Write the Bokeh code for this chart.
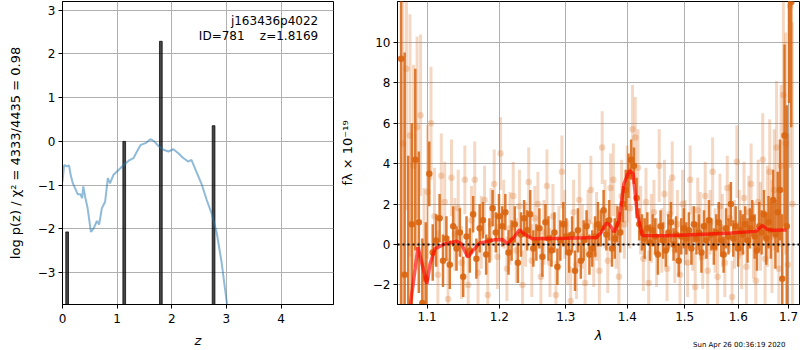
import numpy as np
from bokeh.plotting import figure
from bokeh.layouts import row
from bokeh.models import (Range1d, FixedTicker, PrintfTickFormatter,
                          CustomJSTickFormatter, Span, Label, Title)
from bokeh.embed import file_html
from bokeh.resources import INLINE

# ---------------- data: left panel (redshift PDF) ----------------
z_grid = [0.0, 0.03, 0.08, 0.12, 0.15, 0.19, 0.23, 0.28, 0.33, 0.36,
          0.38, 0.42, 0.46, 0.52, 0.57, 0.63, 0.67, 0.72, 0.78, 0.83,
          0.87, 0.93, 1.03, 1.12, 1.21, 1.30, 1.38, 1.43, 1.52, 1.61,
          1.68, 1.76, 1.85, 1.94, 2.03, 2.12, 2.21, 2.30, 2.36, 2.45,
          2.55, 2.64, 2.73, 2.82, 2.91, 3.01, 3.10]
logpz = [-0.92, -0.54, -0.57, -0.55, -0.77, -0.96, -1.07, -1.21, -1.21, -1.30,
         -1.03, -1.30, -1.53, -2.07, -1.99, -1.82, -1.90, -1.53, -1.38, -0.84,
         -0.96, -0.77, -0.65, -0.54, -0.44, -0.38, -0.19, -0.08, -0.04, 0.05,
         0.0, -0.11, -0.19, -0.23, -0.18, -0.27, -0.38, -0.46, -0.42, -0.69,
         -0.99, -1.34, -1.65, -2.07, -2.75, -3.71, -4.5]
peak_z = [0.085, 1.13, 1.80, 2.765]
peak_logp = [-2.07, 0.0, 2.29, 0.36]

# ---------------- data: right panel (spectrum) ----------------
dark_wave = np.round(1.066 + 0.0046 * np.arange(140), 4)
dark_flux = [9.2, -1.5, -3.6, 1.0, 4.2, 1.1, -2.9, -1.7,
             3.5, -0.4, 0.2, 1.3, -0.8, 0.3, -1.0, 0.9, -0.2, 0.6, -1.6,
             0.4, -0.3, 1.5, -0.7, 0.8, 1.2, -0.5, 0.2, 1.8, 0.6, 1.4,
             0.9, 1.6, -0.4, 0.2, 1.0, -0.9, 0.5, 1.3, 0.7, 1.5, -0.2,
             0.1, 0.8, -0.6, 1.1, 0.3, -0.3, 0.6, -1.1, 0.2, 1.0, 0.4,
             -0.4, 0.5, -1.3, 0.7, -0.8, 0.2, 0.9, -0.5, -0.2, 0.4, 1.0,
             0.8, 1.7, 0.5, 1.2, -0.2, 0.3, 1.0, 0.6, 2.0, 2.7, 3.4,
             4.2, 3.9, 2.3, 1.0, 0.6, 0.3, 0.8, 0.1, 0.7, 0.4, -0.5,
             0.9, 0.2, -0.3, 0.6, 1.1, 0.0, 0.5, -0.8, 0.4, 0.8, 0.3,
             0.7, -0.2, 1.0, 0.3, 0.6, -0.4, 0.9, 0.2, 1.2, 0.5, -0.1,
             0.6, 1.1, 0.2, -0.5, 0.8, 0.4, 2.0, 0.3, 0.9, -0.2, 0.7,
             0.5, 1.0, 0.2, 0.8, 1.3, 0.4, -0.3, 0.9, 0.6, 1.5, 0.3,
             1.1, 0.7, 2.2, 0.5, 1.6, 2.7, -1.7, 5.4, 0.9, 15.0, 12.0]
dark_err = [14, 11, 8, 5, 4.5, 3.5, 3.2, 2.8,
            1.6, 1.4, 1.3, 1.2, 1.3, 1.1, 1.2, 1.0, 1.1, 1.2, 1.0,
            1.0, 1.1, 0.9, 1.0, 1.2, 0.9, 1.0, 1.1, 0.9, 1.0, 1.1,
            1.0, 0.9, 1.1, 1.0, 0.9, 1.0, 1.1, 0.9, 1.0, 1.2, 0.9,
            0.9, 1.0, 1.0, 0.9, 1.1, 0.8, 1.0, 0.9, 1.0, 1.1, 0.9,
            1.0, 0.9, 1.0, 1.1, 0.9, 1.0, 0.8, 1.0, 0.9, 1.0, 1.1,
            0.9, 1.0, 0.8, 1.0, 0.9, 1.0, 0.9, 1.0, 0.9, 1.0, 1.1,
            1.0, 0.9, 1.0, 0.8, 0.9, 1.0, 0.8, 0.9, 0.8, 0.9, 1.0,
            0.8, 0.9, 0.8, 0.9, 1.0, 0.8, 0.9, 0.8, 0.9, 1.0, 0.8,
            0.9, 0.8, 0.9, 0.8, 0.9, 1.0, 0.8, 0.9, 1.0, 0.8, 0.9,
            0.9, 1.0, 0.8, 0.9, 1.0, 0.9, 1.1, 0.9, 1.0, 0.9, 1.0,
            1.0, 0.9, 1.1, 1.0, 0.9, 1.1, 1.0, 1.2, 1.1, 1.2, 1.3,
            1.3, 1.4, 1.5, 1.7, 2.0, 2.5, 3.2, 4.5, 6.0, 8.0, 6.2]

light_wave = np.round(1.0683 + 0.0046 * np.arange(140), 4)
light_flux = [5.0, 8.7, 5.4, 3.9, 5.8, 6.4, -1.0, 2.6,
              6.0, 1.4, -1.5, 3.4, 2.1, -2.7, 3.3, 0.5, 1.8, -0.9, 3.2,
              -2.0, 1.2, 3.2, -1.4, 0.6, 2.2, -2.5, 1.0, 3.0, -0.6, 4.5,
              1.5, -1.2, 0.8, 2.4, -0.3, 1.9, -2.0, 0.5, 3.1, -0.8, 1.3,
              2.0, -1.6, 0.6, 2.9, -0.9, 1.4, -2.5, 0.3, 3.6, 1.0, -0.4,
              -2.8, 1.6, -1.0, 2.2, 0.4, -1.9, 1.1, 2.7, -0.5, 0.9, -1.3,
              4.8, 1.5, -0.8, 2.8, 3.2, 0.4, -1.6, 2.4, 1.0, 3.0, 1.8,
              5.7, 5.3, 3.8, 1.2, -0.7, 2.1, -1.9, 0.8, 1.6, -0.4, 3.9,
              0.2, 2.5, -1.2, 1.5, 3.3, -0.3, 1.0, -1.5, 2.0, 0.6, -0.9,
              3.2, 0.3, -2.1, 1.7, 0.9, -0.6, 2.4, -1.3, 1.1, 3.6, 0.2,
              -1.6, 1.9, 0.7, -0.9, 2.8, 1.3, -2.6, 0.5, 4.1, 1.0, -0.4,
              2.3, -1.1, 1.6, 3.0, 0.2, -1.8, 2.1, 0.9, 4.2, -0.7, 1.4,
              3.6, 0.4, 2.7, 4.8, -1.2, 3.9, 7.4, 5.0, -1.0, 11.8, 2.0]
light_err = [9, 7, 6, 5, 4.5, 4, 3.8, 3.3,
             2.8, 2.4, 2.2, 2.1, 2.0, 2.0, 1.9, 1.8, 1.9, 1.8, 1.7,
             1.8, 1.7, 1.9, 1.6, 1.8, 1.7, 1.6, 1.8, 1.7, 1.6, 1.8,
             1.7, 1.6, 1.8, 1.7, 1.6, 1.8, 1.7, 1.6, 1.7, 1.8, 1.6,
             1.6, 1.7, 1.6, 1.8, 1.7, 1.6, 1.7, 1.6, 1.8, 1.7, 1.6,
             1.7, 1.6, 1.7, 1.8, 1.6, 1.7, 1.6, 1.7, 1.6, 1.7, 1.8,
             1.8, 1.7, 1.6, 1.7, 1.8, 1.6, 1.7, 1.8, 1.7, 1.9, 2.0,
             2.2, 2.0, 1.9, 1.7, 1.6, 1.7, 1.6, 1.7, 1.6, 1.7, 1.8,
             1.6, 1.7, 1.6, 1.7, 1.8, 1.6, 1.7, 1.6, 1.7, 1.6, 1.7,
             1.7, 1.6, 1.7, 1.6, 1.7, 1.6, 1.7, 1.8, 1.6, 1.7, 1.6,
             1.7, 1.6, 1.8, 1.7, 1.6, 1.7, 1.8, 1.7, 1.8, 1.7, 1.8,
             1.8, 1.9, 1.8, 2.0, 1.9, 2.0, 2.1, 2.2, 2.3, 2.4, 2.5,
             2.6, 2.8, 3.0, 3.3, 3.6, 4.0, 4.8, 5.5, 6.5, 8.0, 9.0]

model_wave = [1.072, 1.078, 1.0879, 1.0996, 1.1039, 1.1105, 1.1238, 1.1396, 1.1463, 1.1553,
              1.1623, 1.1716, 1.1926, 1.2045, 1.2117, 1.2212, 1.2296, 1.236, 1.2484, 1.3013,
              1.3486, 1.3567, 1.3646, 1.3701, 1.3781, 1.386, 1.3941, 1.4033, 1.4097, 1.4167,
              1.4254, 1.4653, 1.5253, 1.5868, 1.6343, 1.6474, 1.657, 1.6676, 1.6954]
model_flux = [-5.0, -2.97, -0.13, -1.95, -0.95, -0.21, 0.03, 0.16, 0.03, -0.63,
              -0.3, 0.07, 0.23, 0.25, 0.03, 0.36, 0.73, 0.53, 0.28, 0.31,
              0.35, 0.6, 1.05, 1.0, 0.61, 1.19, 3.0, 3.66, 3.5, 1.52,
              0.45, 0.43, 0.5, 0.57, 0.65, 0.94, 0.75, 0.7, 0.72]

x_ticks_left = [0, 1, 2, 3, 4]
y_ticks_left = [-3, -2, -1, 0, 1, 2, 3]
x_ticks_right = [1.1, 1.2, 1.3, 1.4, 1.5, 1.6, 1.7]
y_ticks_right = [-2, 0, 2, 4, 6, 8, 10]

FONT = "DejaVu Sans"
ORANGE = "#d9650f"
NB = "\u00a0"
MINUS_FMT = CustomJSTickFormatter(code="return String(tick).replace('-', '\u2212');")


def style(p):
    p.outline_line_color = "black"
    p.outline_line_width = 1
    p.outline_line_alpha = 1
    p.background_fill_color = "white"
    p.border_fill_color = "white"
    for ax in p.axis:
        ax.major_label_text_font = FONT
        ax.major_label_text_font_size = "12px"
        ax.major_label_text_color = "black"
        ax.axis_label_text_font = FONT
        ax.axis_label_text_font_size = "13px"
        ax.axis_label_text_color = "black"
        ax.axis_line_color = "black"
        ax.major_tick_line_color = "black"
        ax.major_tick_out = 4
        ax.major_tick_in = 0
        ax.minor_tick_line_color = None
        ax.major_label_standoff = 3
        ax.axis_label_standoff = 4
    for ax in p.xaxis:
        ax.major_label_standoff = 5
        ax.axis_label_standoff = 7
    for g in p.grid:
        g.grid_line_color = "#b0b0b0"
        g.grid_line_width = 1
        g.grid_line_alpha = 1


# ---------------- left figure ----------------
p1 = figure(width=336, height=350, x_range=Range1d(0, 4.96), y_range=Range1d(-3.73, 3.2),
            output_backend="svg", toolbar_location=None,
            min_border_left=62, min_border_right=3, min_border_top=1, min_border_bottom=46)
p1.vbar(x=peak_z, top=peak_logp, bottom=-6, width=0.05, color="black", alpha=0.72)
p1.line(z_grid, logpz, color="#1f77b4", alpha=0.5, line_width=2)
p1.xaxis.ticker = FixedTicker(ticks=x_ticks_left)
p1.yaxis.ticker = FixedTicker(ticks=y_ticks_left)
p1.yaxis.formatter = MINUS_FMT
p1.xaxis.axis_label = "z"
p1.yaxis.axis_label = "log p(z) / χ² = 4333/4435 = 0.98"
style(p1)
p1.yaxis.axis_label_standoff = 12
p1.xaxis.axis_label_text_font_style = "italic"
p1.yaxis.axis_label_text_font_style = "normal"
p1.add_layout(Label(x=4.68, y=2.76, text="j163436p4022",
                    text_align="right", text_baseline="middle", text_font=FONT,
                    text_font_size="12px", text_color="black"))
p1.add_layout(Label(x=4.68, y=2.42,
                    text="ID=781" + NB * 4 + "z=1.8169",
                    text_align="right", text_baseline="middle", text_font=FONT,
                    text_font_size="12px", text_color="black"))

# ---------------- right figure ----------------
p2 = figure(width=464, height=350, x_axis_type="log",
            x_range=Range1d(1.0614, 1.7224), y_range=Range1d(-2.97, 12.03),
            output_backend="svg", toolbar_location=None,
            min_border_left=56, min_border_right=1, min_border_top=1, min_border_bottom=46)
l_lo = [f - e for f, e in zip(light_flux, light_err)]
l_hi = [f + e for f, e in zip(light_flux, light_err)]
d_lo = [f - e for f, e in zip(dark_flux, dark_err)]
d_hi = [f + e for f, e in zip(dark_flux, dark_err)]
p2.segment(x0=light_wave, y0=l_lo, x1=light_wave, y1=l_hi, line_color=ORANGE,
           line_alpha=0.25, line_width=3)
p2.scatter(light_wave, light_flux, size=6.5, fill_color=ORANGE, fill_alpha=0.25, line_color=None)
p2.segment(x0=dark_wave, y0=d_lo, x1=dark_wave, y1=d_hi, line_color=ORANGE,
           line_alpha=0.85, line_width=2.5)
p2.scatter(dark_wave, dark_flux, size=6.5, fill_color=ORANGE, fill_alpha=0.9, line_color=None)
p2.line(model_wave, model_flux, color="red", alpha=0.65, line_width=3.5)
p2.add_layout(Span(location=0, dimension="width", line_color="black", line_width=2,
                   line_dash="2 3"))
p2.xaxis.ticker = FixedTicker(ticks=x_ticks_right, minor_ticks=[])
p2.xaxis.formatter = PrintfTickFormatter(format="%.1f")
p2.yaxis.ticker = FixedTicker(ticks=y_ticks_right)
p2.yaxis.formatter = MINUS_FMT
p2.xaxis.axis_label = "λ"
p2.yaxis.axis_label = "fλ × 10⁻¹⁹"
style(p2)
p2.yaxis.axis_label_standoff = 15
p2.xaxis.major_label_standoff = 3
p2.xaxis.axis_label_standoff = 4
p2.xaxis.axis_label_text_font_style = "italic"
p2.yaxis.axis_label_text_font_style = "normal"
p2.add_layout(Title(text="Sun Apr 26 00:36:19 2020", align="right", vertical_align="top",
                    text_font=FONT, text_font_size="7px", text_font_style="normal",
                    text_color="black", standoff=-9, offset=14), "below")

layout = row(p1, p2)
open("out.html", "w").write(file_html(layout, INLINE))
